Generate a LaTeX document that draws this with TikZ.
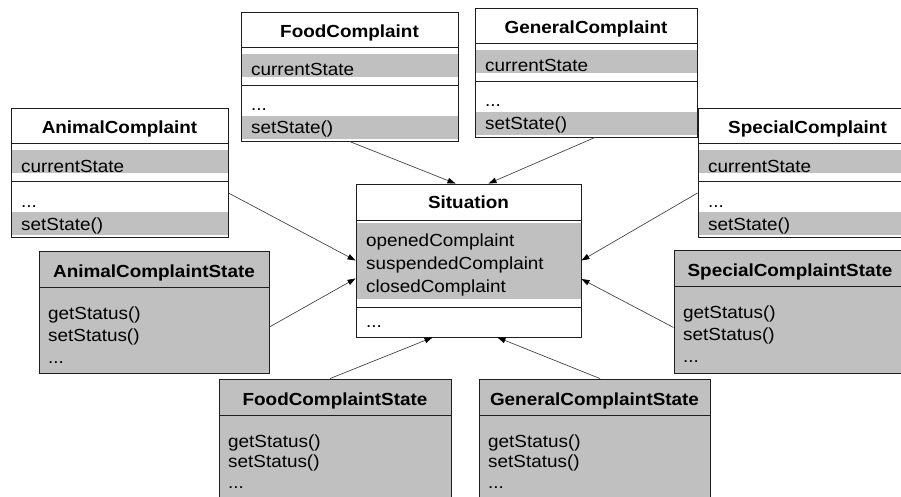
\documentclass[tikz,border=0pt]{standalone}
\usepackage{fontspec}
\setmainfont{Liberation Sans}[FakeStretch=1.08]
\usetikzlibrary{arrows.meta,fit}

\definecolor{bandgray}{RGB}{192,192,192}
\definecolor{framecol}{RGB}{30,30,30}
\definecolor{linkcol}{RGB}{70,70,70}

\newcommand\boxfont{\fontsize{17.5}{21}\selectfont}

\tikzset{
  frame/.style={draw=framecol, line width=0.9pt, inner sep=0pt},
  sepline/.style={draw=framecol, line width=0.9pt},
  band/.style={fill=bandgray},
  title/.style={anchor=base, font=\boxfont\bfseries, inner sep=0pt},
  member/.style={anchor=base west, font=\boxfont, inner sep=0pt},
  link/.style={draw=linkcol, line width=0.7pt,
    -{Triangle[length=8pt,width=5.5pt,fill=black,color=black]}},
}

% class with an attribute band and an operation band
% #1 name, #2 left, #3 top, #4 right, #5 bottom, #6 title
\newcommand\complaintclass[6]{%
  \fill[band] (#2,{#3+42}) rectangle (#4,{#3+65});
  \fill[band] (#2,{#3+104}) rectangle (#4,{#3+127});
  \node[frame, fit={(#2,#3) (#4,#5)}] (#1) {};
  \draw[sepline] (#2,{#3+35}) -- (#4,{#3+35});
  \draw[sepline] (#2,{#3+73}) -- (#4,{#3+73});
  \node[title] (#1-title) at ({(#2+#4)/2},{#3+26}) {#6};
  \node[member] (#1-attr) at ({#2+10},{#3+64}) {currentState};
  \node[member] (#1-more) at ({#2+10},{#3+99}) {...};
  \node[member] (#1-op) at ({#2+10},{#3+122}) {setState()};
}

% state class, fully shaded
% #1 name, #2 left, #3 top, #4 right, #5 bottom, #6 title, #7 line gap
\newcommand\stateclass[7]{%
  \node[frame, fill=bandgray, fit={(#2,#3) (#4,#5)}] (#1) {};
  \draw[sepline] (#2,{#3+36}) -- (#4,{#3+36});
  \node[title] (#1-title) at ({(#2+#4)/2},{#3+26}) {#6};
  \node[member] (#1-get) at ({#2+9},{#3+68}) {getStatus()};
  \node[member] (#1-set) at ({#2+9},{#3+68+#7}) {setStatus()};
  \node[member] (#1-more) at ({#2+9},{#3+68+2*#7}) {...};
}

\begin{document}
\begin{tikzpicture}[x=1pt, y=-1pt]
  \useasboundingbox (0,0) rectangle (901,497);
  \clip (0,0) rectangle (901,497);
  \fill[white] (0,0) rectangle (901,497);

  % context classes
  \complaintclass{animal}{11}{108}{228}{237}{AnimalComplaint}
  \complaintclass{food}{241}{12}{458}{141}{FoodComplaint}
  \complaintclass{general}{475}{8}{697}{137}{GeneralComplaint}
  \complaintclass{special}{698}{108}{917}{237}{SpecialComplaint}

  % state classes
  \stateclass{animalstate}{39}{251}{269}{373}{AnimalComplaintState}{22}
  \stateclass{specialstate}{674}{250}{906}{373}{SpecialComplaintState}{22}
  \stateclass{foodstate}{219}{379}{451}{515}{FoodComplaintState}{20.5}
  \stateclass{generalstate}{479}{379}{710}{515}{GeneralComplaintState}{20.5}

  % shared situation class
  \fill[band] (356,223) rectangle (581,299);
  \node[frame, fit={(356,184) (581,337)}] (sit) {};
  \draw[sepline] (356,220) -- (581,220);
  \draw[sepline] (356,307) -- (581,307);
  \node[title] (sit-title) at (468.5,208) {Situation};
  \node[member] (sit-open) at (366,246) {openedComplaint};
  \node[member] (sit-susp) at (366,269) {suspendedComplaint};
  \node[member] (sit-closed) at (366,292) {closedComplaint};
  \node[member] (sit-more) at (366,327) {...};

  % associations
  \draw[link] (food.south) -- ([xshift=-13pt]sit.north);
  \draw[link] ([xshift=9pt]general.south) -- ([xshift=20pt]sit.north);
  \draw[link] ([yshift=-20.5pt]animal.east) -- (sit.west);
  \draw[link] ([yshift=-15pt]animalstate.east) -- ([yshift=-18pt]sit.west);
  \draw[link] ([yshift=-20.5pt]special.west) -- (sit.east);
  \draw[link] ([yshift=-16pt]specialstate.west) -- ([yshift=-18.5pt]sit.east);
  \draw[link] ([xshift=-5pt]foodstate.north) -- ([xshift=-36pt]sit.south);
  \draw[link] ([xshift=5.5pt]generalstate.north) -- ([xshift=29pt]sit.south);
\end{tikzpicture}
\end{document}
